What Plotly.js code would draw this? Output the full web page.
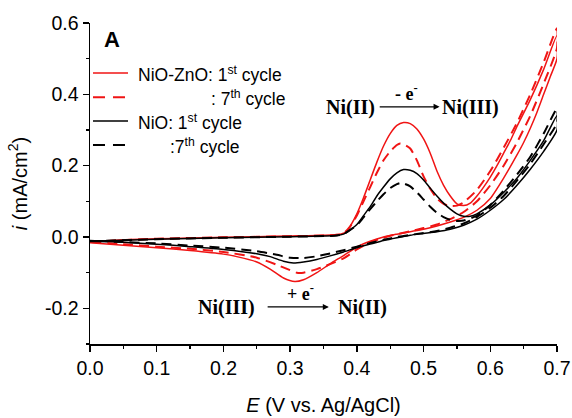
<!DOCTYPE html>
<html>
<head>
<meta charset="utf-8">
<script src="https://cdn.plot.ly/plotly-3.0.1.min.js"></script>
<style>html,body{margin:0;padding:0;background:#fff;}#chart{width:572px;height:418px;}</style>
</head>
<body>
<div id="chart"></div>
<script>
// Legend labels
const seriesNames = [
  "NiO-ZnO: 1<sup>st</sup> cycle",
  ": 7<sup>th</sup> cycle",
  "NiO: 1<sup>st</sup> cycle",
  ":7<sup>th</sup> cycle"
];

// NiO-ZnO 1st cycle: forward (anodic) then reverse (cathodic)
const znoFirstX = [0.00,0.05,0.10,0.15,0.20,0.25,0.30,0.35,0.375,0.385,0.39,0.40,0.41,0.42,0.43,0.44,0.45,0.46,0.47,0.48,0.49,0.50,0.51,0.52,0.53,0.54,0.55,0.56,0.57,0.58,0.59,0.60,0.61,0.62,0.63,0.64,0.66,0.68,0.70,
  0.70,0.69,0.68,0.67,0.66,0.65,0.64,0.62,0.60,0.58,0.56,0.54,0.52,0.50,0.48,0.46,0.44,0.42,0.40,0.38,0.36,0.34,0.32,0.307,0.29,0.27,0.25,0.22,0.20,0.15,0.10,0.05,0.00];
const znoFirstY = [-0.015,-0.008,-0.005,-0.003,-0.001,0.001,0.003,0.005,0.008,0.015,0.03,0.065,0.11,0.16,0.21,0.255,0.29,0.313,0.321,0.318,0.303,0.275,0.235,0.185,0.145,0.115,0.093,0.088,0.095,0.115,0.14,0.168,0.2,0.235,0.27,0.31,0.385,0.47,0.565,
  0.50,0.45,0.40,0.35,0.305,0.265,0.23,0.165,0.108,0.075,0.055,0.042,0.031,0.022,0.015,0.008,0.0,-0.012,-0.028,-0.052,-0.075,-0.1,-0.12,-0.125,-0.115,-0.09,-0.07,-0.055,-0.048,-0.038,-0.03,-0.023,-0.016];

// NiO-ZnO 7th cycle
const znoSeventhX = [0.00,0.10,0.20,0.30,0.37,0.38,0.39,0.40,0.41,0.42,0.43,0.44,0.45,0.46,0.465,0.47,0.48,0.49,0.50,0.51,0.52,0.53,0.54,0.55,0.56,0.58,0.60,0.62,0.64,0.66,0.68,0.70,
  0.70,0.68,0.66,0.64,0.62,0.60,0.58,0.56,0.54,0.52,0.50,0.48,0.46,0.44,0.42,0.40,0.38,0.36,0.34,0.32,0.31,0.30,0.28,0.25,0.20,0.15,0.10,0.05,0.00];
const znoSeventhY = [-0.013,-0.005,-0.001,0.002,0.006,0.01,0.03,0.06,0.1,0.14,0.18,0.215,0.24,0.258,0.262,0.26,0.248,0.215,0.17,0.135,0.108,0.093,0.087,0.088,0.097,0.132,0.185,0.25,0.32,0.40,0.49,0.585,
  0.53,0.43,0.34,0.265,0.2,0.145,0.1,0.07,0.05,0.035,0.025,0.016,0.008,-0.002,-0.015,-0.035,-0.06,-0.076,-0.09,-0.1,-0.1,-0.093,-0.078,-0.058,-0.042,-0.033,-0.027,-0.02,-0.014];

// NiO 1st cycle
const nioFirstX = [0.00,0.10,0.20,0.30,0.37,0.38,0.39,0.40,0.41,0.42,0.43,0.44,0.45,0.46,0.47,0.48,0.49,0.50,0.51,0.52,0.53,0.54,0.55,0.56,0.57,0.58,0.60,0.62,0.64,0.66,0.68,0.70,
  0.70,0.68,0.66,0.64,0.62,0.60,0.58,0.56,0.54,0.52,0.50,0.48,0.46,0.44,0.42,0.40,0.38,0.36,0.34,0.32,0.305,0.29,0.27,0.25,0.20,0.15,0.10,0.05,0.00];
const nioFirstY = [-0.012,-0.006,-0.002,0.001,0.004,0.008,0.02,0.035,0.06,0.085,0.115,0.14,0.163,0.18,0.189,0.187,0.178,0.16,0.137,0.115,0.095,0.078,0.065,0.058,0.058,0.065,0.09,0.125,0.165,0.215,0.27,0.34,
  0.30,0.24,0.19,0.145,0.105,0.075,0.05,0.033,0.022,0.015,0.01,0.005,-0.002,-0.01,-0.02,-0.03,-0.042,-0.053,-0.063,-0.07,-0.073,-0.068,-0.055,-0.047,-0.035,-0.027,-0.02,-0.015,-0.01];

// NiO 7th cycle
const nioSeventhX = [0.00,0.10,0.20,0.30,0.37,0.38,0.39,0.40,0.41,0.42,0.43,0.44,0.45,0.46,0.465,0.47,0.48,0.49,0.50,0.51,0.52,0.53,0.54,0.55,0.56,0.58,0.60,0.62,0.64,0.66,0.68,0.70,
  0.70,0.68,0.66,0.64,0.62,0.60,0.58,0.56,0.54,0.52,0.50,0.48,0.46,0.44,0.42,0.40,0.38,0.36,0.34,0.32,0.30,0.28,0.25,0.20,0.15,0.10,0.05,0.00];
const nioSeventhY = [-0.012,-0.006,-0.002,0.001,0.004,0.008,0.02,0.033,0.055,0.078,0.1,0.12,0.137,0.148,0.151,0.15,0.142,0.125,0.105,0.085,0.068,0.056,0.048,0.045,0.046,0.06,0.09,0.13,0.175,0.225,0.29,0.36,
  0.32,0.26,0.205,0.158,0.115,0.082,0.056,0.038,0.026,0.017,0.011,0.006,0.0,-0.008,-0.017,-0.027,-0.037,-0.046,-0.054,-0.059,-0.058,-0.05,-0.04,-0.03,-0.024,-0.018,-0.014,-0.011];

// Axis ticks
const xTickVals = [0.0,0.1,0.2,0.3,0.4,0.5,0.6,0.7];
const xTickText = ["0.0","0.1","0.2","0.3","0.4","0.5","0.6","0.7"];
const yTickVals = [-0.2,0.0,0.2,0.4,0.6];
const yTickText = ["-0.2","0.0","0.2","0.4","0.6"];

const RED = "#f01414";
const BLACK = "#000000";
const dashPat = "10px,6px";
const colors = [RED, RED, BLACK, BLACK];
const dashes = ["solid", dashPat, "solid", dashPat];
const widths = [1.5, 2, 1.5, 2];

const xs = [znoFirstX, znoSeventhX, nioFirstX, nioSeventhX];
const ys = [znoFirstY, znoSeventhY, nioFirstY, nioSeventhY];
const traces = xs.map((x, i) => ({
  x: x, y: ys[i], name: seriesNames[i], mode: "lines", showlegend: false,
  line: {color: colors[i], width: widths[i], dash: dashes[i], shape: "spline", smoothing: 0.6}
}));

const sans = "Liberation Sans, Arial, sans-serif";
const serif = "Liberation Serif, Times New Roman, serif";
const tickFont = {family: sans, size: 19.5, color: "#000"};

// manual legend (paper coordinates)
const legendRowY = [0.844, 0.769, 0.695, 0.620];
const legendTextX = [0.0985, 0.255, 0.0985, 0.166];
const legendShapes = legendRowY.map((yy, i) => ({
  type: "line", xref: "paper", yref: "paper", x0: 0.0064, x1: 0.0814, y0: yy, y1: yy,
  line: {color: colors[i], width: widths[i], dash: i % 2 ? "12px,8px" : "solid"}
}));
const legendTexts = legendRowY.map((yy, i) => ({
  xref: "paper", yref: "paper", x: legendTextX[i], y: yy - 0.004, xanchor: "left", yanchor: "middle",
  text: seriesNames[i], showarrow: false, font: {family: sans, size: 17.5, color: "#000"}
}));

const layout = {
  width: 572, height: 418,
  margin: {l: 90, r: 15, t: 23, b: 74},
  paper_bgcolor: "#fff", plot_bgcolor: "#fff",
  showlegend: false,
  xaxis: {
    range: [0, 0.7], showgrid: false, zeroline: false, showline: true, linecolor: "#000", linewidth: 1.5,
    ticks: "outside", ticklen: 6, tickwidth: 1.3, tickcolor: "#000",
    tickvals: xTickVals, ticktext: xTickText, tickfont: tickFont,
    minor: {dtick: 0.05, ticks: "outside", ticklen: 3, tickwidth: 1.2, tickcolor: "#000", showgrid: false},
    title: {text: "<i>E</i> (V vs. Ag/AgCl)", font: {family: sans, size: 20, color: "#000"}, standoff: 20}
  },
  yaxis: {
    range: [-0.3, 0.6], showgrid: false, zeroline: false, showline: true, linecolor: "#000", linewidth: 1.5,
    ticks: "outside", ticklen: 6, tickwidth: 1.3, tickcolor: "#000",
    tickvals: yTickVals, ticktext: yTickText, tickfont: tickFont,
    minor: {dtick: 0.1, ticks: "outside", ticklen: 3, tickwidth: 1.2, tickcolor: "#000", showgrid: false},
    title: {text: "<i>i</i> (mA/cm<sup>2</sup>)", font: {family: sans, size: 20, color: "#000"}, standoff: 12}
  },
  shapes: legendShapes,
  annotations: legendTexts.concat([
    {x: 0.033, y: 0.553, xref: "x", yref: "y", text: "<b>A</b>", showarrow: false,
      font: {family: sans, size: 22, color: "#000"}},
    // upper reaction label
    {x: 0.39, y: 0.362, xref: "x", yref: "y", text: "<b>Ni(II)</b>", showarrow: false, font: {family: serif, size: 20, color: "#000"}},
    {x: 0.571, y: 0.362, xref: "x", yref: "y", text: "<b>Ni(III)</b>", showarrow: false, font: {family: serif, size: 20, color: "#000"}},
    {x: 0.524, y: 0.365, ax: 0.432, ay: 0.365, axref: "x", ayref: "y", xref: "x", yref: "y", text: "", showarrow: true,
      arrowhead: 2, arrowsize: 1, arrowwidth: 1.2, arrowcolor: "#000"},
    {x: 0.474, y: 0.405, xref: "x", yref: "y", text: "<b>- e<sup>-</sup></b>", showarrow: false, font: {family: serif, size: 18, color: "#000"}},
    // lower reaction label
    {x: 0.205, y: -0.199, xref: "x", yref: "y", text: "<b>Ni(III)</b>", showarrow: false, font: {family: serif, size: 20, color: "#000"}},
    {x: 0.408, y: -0.199, xref: "x", yref: "y", text: "<b>Ni(II)</b>", showarrow: false, font: {family: serif, size: 20, color: "#000"}},
    {x: 0.358, y: -0.196, ax: 0.264, ay: -0.196, axref: "x", ayref: "y", xref: "x", yref: "y", text: "", showarrow: true,
      arrowhead: 2, arrowsize: 1, arrowwidth: 1.2, arrowcolor: "#000"},
    {x: 0.315, y: -0.156, xref: "x", yref: "y", text: "<b>+ e<sup>-</sup></b>", showarrow: false, font: {family: serif, size: 18, color: "#000"}}
  ])
};

Plotly.newPlot("chart", traces, layout, {displayModeBar: false, staticPlot: true});
</script>
</body>
</html>
